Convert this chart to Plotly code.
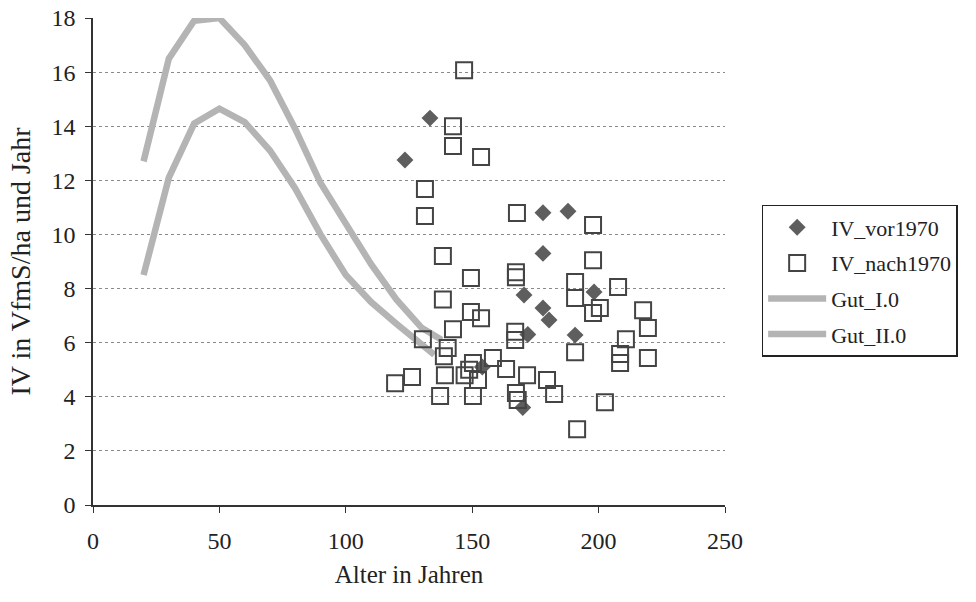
import plotly.graph_objects as go

# IV_vor1970 (diamonds)
vor_x = [123.4, 133.3, 178.0, 187.9, 178.0, 170.5, 178.0, 180.4, 198.2, 172.0, 190.7, 170.0, 154.0]
vor_y = [12.75, 14.3, 10.8, 10.86, 9.3, 7.76, 7.28, 6.84, 7.87, 6.3, 6.28, 3.6, 5.1]

# IV_nach1970 (open squares)
nach_x = [146.8, 142.4, 142.4, 153.5, 131.3, 131.3, 167.7, 138.4, 149.5, 167.3, 167.3,
          138.4, 149.5, 153.5, 142.4, 130.5, 140.3, 138.8, 139.2, 119.5, 126.2, 137.3,
          150.3, 150.3, 147.0, 152.3, 158.2, 163.4, 167.0, 167.0, 171.7, 179.6, 167.3,
          168.0, 182.4, 190.7, 202.5, 191.5, 197.8, 197.8, 190.7, 190.7, 200.5, 197.8,
          207.7, 217.6, 219.5, 210.8, 208.5, 208.5, 219.5, 148.8]
nach_y = [16.07, 14.0, 13.27, 12.86, 11.68, 10.68, 10.79, 9.2, 8.39, 8.6, 8.42,
          7.6, 7.13, 6.9, 6.5, 6.13, 5.8, 5.5, 4.8, 4.5, 4.73, 4.03,
          4.03, 5.25, 4.8, 4.62, 5.43, 5.03, 6.4, 6.1, 4.8, 4.62, 4.14,
          3.88, 4.1, 5.65, 3.8, 2.8, 10.35, 9.05, 8.24, 7.65, 7.28, 7.1,
          8.06, 7.2, 6.54, 6.13, 5.58, 5.25, 5.43, 5.0]

# Yield-table curves
gut1_x = [20, 30, 40, 50, 60, 70, 80, 90, 100, 110, 120, 130, 138]
gut1_y = [12.7, 16.5, 17.9, 18.0, 17.0, 15.7, 13.9, 11.9, 10.4, 8.9, 7.6, 6.55, 6.1]
gut2_x = [20, 30, 40, 50, 60, 70, 80, 90, 100, 110, 120, 130, 135]
gut2_y = [8.5, 12.1, 14.1, 14.65, 14.15, 13.1, 11.7, 10.0, 8.5, 7.5, 6.7, 5.95, 5.55]

y_ticks = [0, 2, 4, 6, 8, 10, 12, 14, 16, 18]
x_ticks = [0, 50, 100, 150, 200, 250]

FONT = "Liberation Serif"
TXT = "#222222"
fig = go.Figure()
fig.add_trace(go.Scatter(x=gut1_x, y=gut1_y, mode="lines", name="Gut_I.0",
                         legendgroup="g3", legendrank=3,
                         line=dict(color="#b4b4b4", width=6.5)))
fig.add_trace(go.Scatter(x=gut2_x, y=gut2_y, mode="lines", name="Gut_II.0",
                         legendgroup="g4", legendrank=4,
                         line=dict(color="#b4b4b4", width=6.5)))
fig.add_trace(go.Scatter(x=vor_x, y=vor_y, mode="markers", name="IV_vor1970",
                         legendgroup="g1", legendrank=1,
                         marker=dict(symbol="diamond", size=13, color="#5e5e5e",
                                     line=dict(width=0))))
fig.add_trace(go.Scatter(x=nach_x, y=nach_y, mode="markers", name="IV_nach1970",
                         legendgroup="g2", legendrank=2,
                         marker=dict(symbol="square-open", size=16, color="#444444",
                                     line=dict(width=2, color="#444444"))))

fig.update_layout(
    width=976, height=602,
    margin=dict(l=93, r=251, t=18, b=97, autoexpand=False),
    paper_bgcolor="white", plot_bgcolor="white",
    font=dict(family=FONT, size=24, color=TXT),
    legend=dict(x=1.058, y=0.46, xanchor="left", yanchor="middle",
                bordercolor="#222222", borderwidth=1.5,
                font=dict(family=FONT, size=22, color=TXT),
                itemwidth=58, traceorder="grouped", tracegroupgap=4),
    xaxis=dict(range=[0, 250], tickvals=x_ticks, ticktext=[str(v) for v in x_ticks],
               showgrid=False, zeroline=False, showline=True, linecolor="#333333",
               linewidth=1.5, ticks="outside", ticklen=6, tickcolor="#333333",
               ticklabelstandoff=7, automargin=False,
               tickfont=dict(family=FONT, size=24, color=TXT),
               title=dict(text="Alter in Jahren", standoff=13,
                          font=dict(family=FONT, size=25, color=TXT))),
    yaxis=dict(range=[0, 18], tickvals=y_ticks, ticktext=[str(v) for v in y_ticks],
               showgrid=True, gridcolor="#8a8a8a", griddash="dot", gridwidth=1,
               zeroline=False, showline=True, linecolor="#333333", linewidth=1.5,
               ticks="outside", ticklen=6, tickcolor="#333333", ticklabelstandoff=5,
               automargin=False,
               tickfont=dict(family=FONT, size=24, color=TXT),
               title=dict(text="IV in VfmS/ha und Jahr", standoff=13,
                          font=dict(family=FONT, size=28, color=TXT))),
)

fig.write_html("out.html", config={"displayModeBar": False},
               post_script="document.body.style.margin='0';document.body.style.overflow='hidden';")
